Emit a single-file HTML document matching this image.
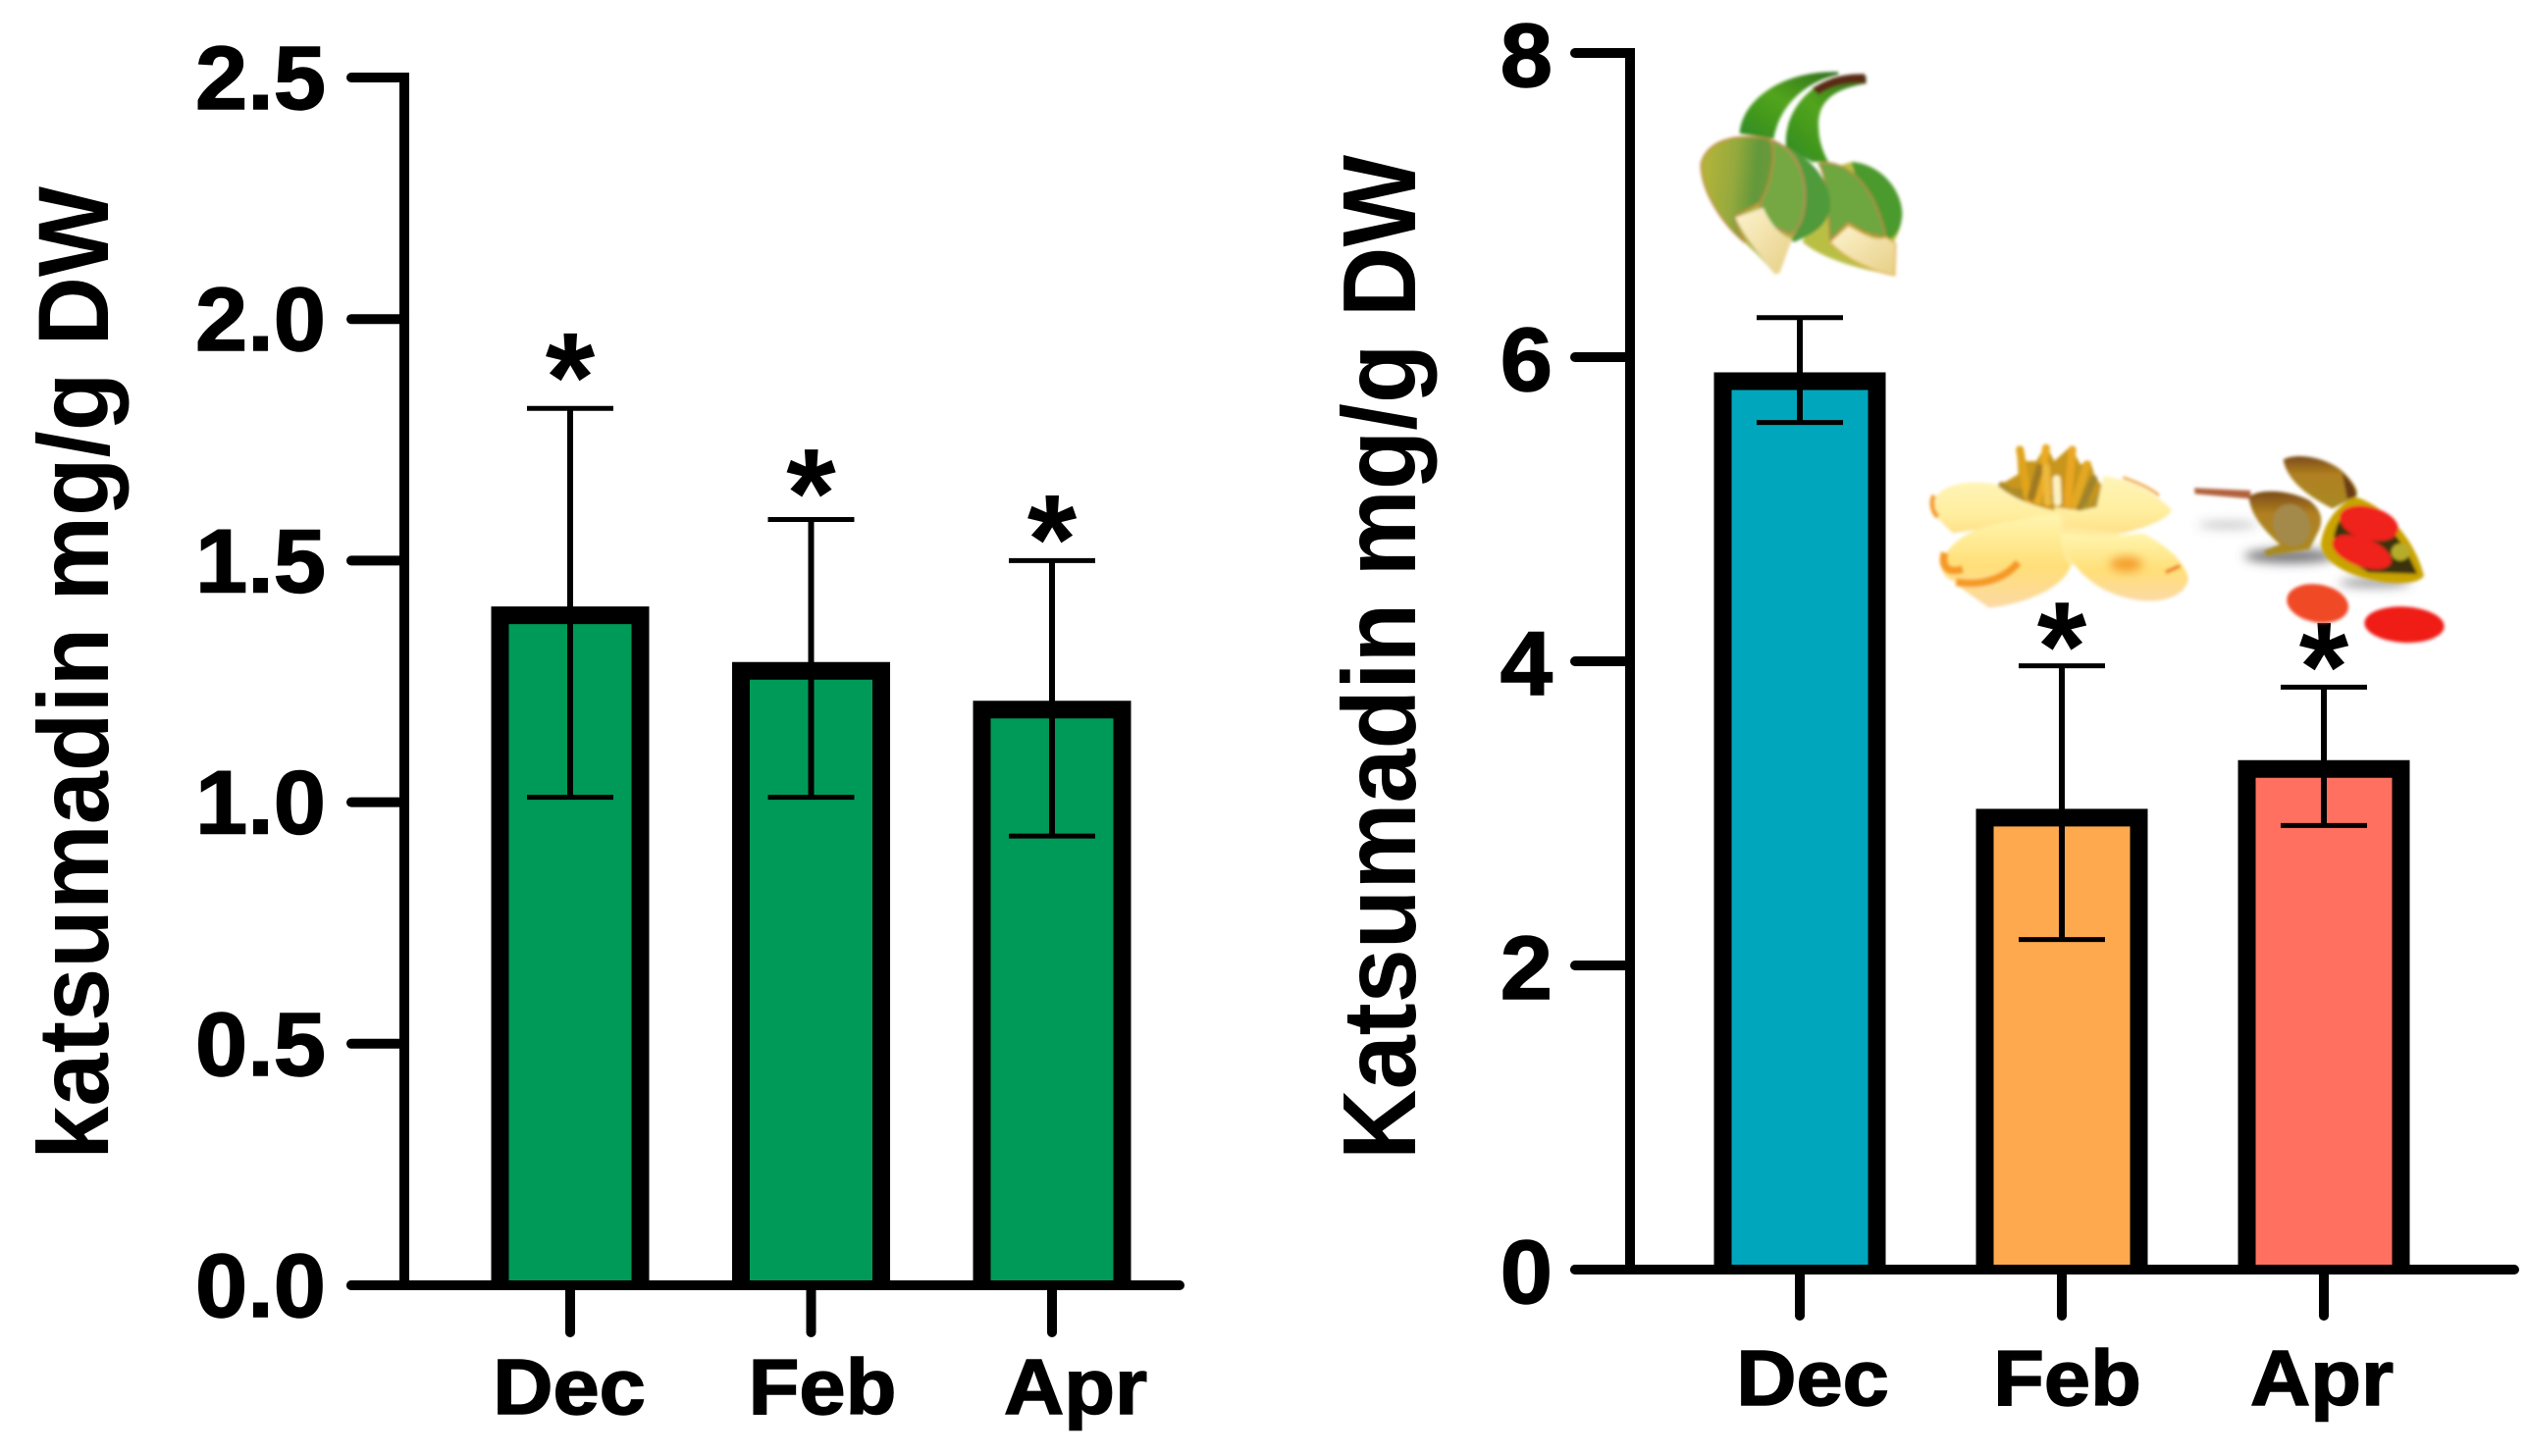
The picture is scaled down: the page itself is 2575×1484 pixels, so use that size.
<!DOCTYPE html>
<html lang="en">
<head>
<meta charset="utf-8">
<title>Katsumadin content charts</title>
<style>
html,body{margin:0;padding:0;background:#fff;}
svg{display:block;}
text{font-family:"Liberation Sans",Arial,sans-serif;font-weight:bold;fill:#000;}
</style>
</head>
<body>
<svg id="figure" xmlns="http://www.w3.org/2000/svg" width="2575" height="1484" viewBox="0 0 2575 1484">
  <defs>
    <filter id="soft" x="-10%" y="-10%" width="120%" height="120%"><feGaussianBlur stdDeviation="5"/></filter>
    <filter id="patch" x="-50%" y="-50%" width="200%" height="200%"><feGaussianBlur stdDeviation="14"/></filter>
    <filter id="softer" x="-30%" y="-60%" width="160%" height="220%"><feGaussianBlur stdDeviation="16"/></filter>
    <linearGradient id="budLeaf" x1="0" y1="0" x2="1" y2="0.15"><stop offset="0" stop-color="#b9b63a"/><stop offset="0.5" stop-color="#95a93c"/><stop offset="0.8" stop-color="#62983a"/><stop offset="1" stop-color="#6a9a3a"/></linearGradient>
    <linearGradient id="budStem" x1="0" y1="1" x2="1" y2="0"><stop offset="0" stop-color="#2f8a22"/><stop offset="0.5" stop-color="#52a41c"/><stop offset="1" stop-color="#2d6f20"/></linearGradient>
    <linearGradient id="budTip" x1="0" y1="0" x2="1" y2="1"><stop offset="0" stop-color="#fdf3cf"/><stop offset="1" stop-color="#e6cf85"/></linearGradient>
    <linearGradient id="petal" x1="0" y1="0" x2="0" y2="1"><stop offset="0" stop-color="#fff4b6"/><stop offset="0.6" stop-color="#ffefa0"/><stop offset="1" stop-color="#ffe08a"/></linearGradient>
    <linearGradient id="petalLow" x1="0" y1="0" x2="0" y2="1"><stop offset="0" stop-color="#fff6b0"/><stop offset="0.55" stop-color="#ffdf78"/><stop offset="1" stop-color="#fcd9a4"/></linearGradient>
    <linearGradient id="podBrown" x1="0" y1="0" x2="0" y2="1"><stop offset="0" stop-color="#7a4a18"/><stop offset="0.35" stop-color="#b08020"/><stop offset="1" stop-color="#a88a20"/></linearGradient>
  </defs>

  <g id="chart-left"></g>
  <g id="chart-right"></g>

  <text transform="translate(110,1182) rotate(-90)" font-size="102" textLength="992" lengthAdjust="spacingAndGlyphs">katsumadin mg/g DW</text>
  <text transform="translate(1442,1182) rotate(-90)" font-size="106" textLength="1024" lengthAdjust="spacingAndGlyphs">Katsumadin mg/g DW</text>

  <g transform="translate(1700,40) scale(0.3333)" filter="url(#soft)">
    <path d="M218,288 C222,200 330,95 520,100 L520,108 C420,130 340,200 322,305 Z" fill="url(#budStem)"/>
    <path d="M360,330 C350,220 440,125 530,115 L605,112 L605,135 C520,150 450,180 460,280 C462,320 480,360 490,375 L440,375 Z" fill="url(#budStem)"/>
    <path d="M440,150 C480,125 520,105 600,106 L605,135 C560,130 500,140 460,170 Z" fill="#5a2a12"/>
    <path d="M410,620 C440,560 470,480 480,400 L560,375 C640,380 710,450 715,530 C715,570 700,600 690,620 L692,722 C620,710 480,680 410,620 Z" fill="#b9bf45"/>
    <path d="M560,375 C640,380 710,450 715,530 C715,570 700,600 680,610 L620,600 Z" fill="#4c9a2e"/>
    <path d="M460,380 C540,365 630,440 665,605 L600,590 L550,560 L495,615 C490,560 490,430 460,380 Z" fill="#6ea63f" stroke="#b58a45" stroke-width="5"/>
    <path d="M495,620 L550,570 C590,590 630,620 665,605 L695,625 L692,722 C620,710 540,670 495,620 Z" fill="url(#budTip)" stroke="#e0a92e" stroke-width="4"/>
    <path d="M330,315 C430,350 500,430 495,520 C480,580 430,600 385,620 L330,600 Z" fill="#4f9a3a"/>
    <path d="M100,380 C120,310 200,285 310,305 C400,330 430,420 415,520 C410,560 390,590 378,610 L340,715 L325,718 C280,660 240,630 235,622 C170,570 100,470 100,380 Z" fill="#b3b23c"/>
    <path d="M320,310 C390,340 430,420 415,520 C410,560 390,590 375,595 L320,575 L280,520 Z" fill="#74a842" stroke="#b58a55" stroke-width="6"/>
    <path d="M100,380 C120,310 200,285 310,305 C335,350 310,450 280,500 L205,540 C205,570 230,610 235,622 C170,570 100,470 100,380 Z" fill="url(#budLeaf)" stroke="#c08a40" stroke-width="5"/>
    <path d="M205,545 L290,515 C310,560 340,600 378,610 L340,715 L325,718 C280,660 230,600 205,545 Z" fill="url(#budTip)"/>
  </g>

  <g transform="translate(1950,420) scale(0.3333)" filter="url(#soft)">
    <path d="M260,225 L320,190 L315,105 L345,150 L375,150 L405,100 L430,150 L480,105 L510,160 L540,150 L555,200 L590,240 L555,285 L620,300 L540,320 L330,285 Z" fill="#c8961e"/>
    <g fill="none" stroke-linecap="round" stroke-width="24">
      <path d="M300,240 L610,300" stroke="#a88a28" stroke-width="18"/>
      <path d="M350,270 L325,115" stroke="#e0a41c"/>
      <path d="M380,270 L405,110" stroke="#eaaa20"/>
      <path d="M360,260 L385,170" stroke="#a07a24"/>
      <path d="M470,280 L485,115" stroke="#eaa620"/>
      <path d="M490,285 L530,160" stroke="#e2a824"/>
      <path d="M510,295 L550,205" stroke="#a0842c"/>
      <path d="M525,300 L585,245" stroke="#b89428"/>
      <path d="M330,270 L270,225" stroke="#b08c28"/>
      <path d="M410,275 L405,170" stroke="#eeb83a"/>
      <path d="M440,275 L437,205" stroke="#fff2c0"/>
    </g>
    <path d="M430,290 L640,320 L620,420 L480,470 L440,430 Z" fill="#ffeb9e"/>
    <path d="M580,195 C650,205 720,230 790,300 C770,330 720,350 640,370 L455,350 L470,310 L560,290 Z" fill="url(#petal)"/>
    <path d="M640,200 C680,215 720,230 750,255" stroke="#f0a030" stroke-width="8" fill="none"/>
    <path d="M450,370 C520,380 620,380 700,370 C780,410 830,460 840,510 C830,570 740,590 660,570 C570,550 500,500 450,400 Z" fill="url(#petalLow)"/>
    <ellipse cx="650" cy="465" rx="50" ry="22" fill="#f59a28" filter="url(#patch)"/>
    <path d="M770,490 L815,470" stroke="#f08020" stroke-width="12"/>
    <path d="M55,285 C70,225 150,205 250,220 C300,260 340,280 445,305 C450,340 380,350 300,345 L120,370 C90,340 60,320 55,285 Z" fill="url(#petal)"/>
    <path d="M62,255 C50,280 60,310 75,320" stroke="#f49a20" stroke-width="14" fill="none"/>
    <path d="M85,470 C95,420 140,370 240,345 C320,330 440,300 450,320 C450,370 440,420 480,470 C460,540 330,590 230,598 C190,570 130,530 120,515 C100,510 85,490 85,470 Z" fill="url(#petalLow)"/>
    <path d="M95,430 C85,470 100,495 150,480 M130,520 C190,530 270,520 320,460" stroke="#f59a20" stroke-width="24" fill="none"/>
  </g>

  <g transform="translate(2220,440) scale(0.3333)">
    <g filter="url(#softer)" fill="#55555a">
      <ellipse cx="150" cy="285" rx="90" ry="10" opacity="0.4"/>
      <ellipse cx="340" cy="380" rx="140" ry="22" opacity="0.8"/>
      <ellipse cx="600" cy="462" rx="110" ry="12" opacity="0.7"/>
    </g>
    <g filter="url(#soft)">
      <path d="M48,172 L220,180 L220,205 L50,190 Z" fill="#b0603a"/>
      <path d="M320,85 C370,60 470,85 510,130 C540,160 555,190 540,200 L470,235 C400,200 330,150 320,85 Z" fill="url(#podBrown)"/>
      <path d="M500,125 C530,150 550,190 540,200 L515,205 C510,180 505,150 500,125 Z" fill="#6a3a18"/>
      <path d="M215,200 C240,175 330,175 400,210 C430,235 445,260 430,300 L400,360 L270,380 L260,365 L310,345 C270,310 220,260 215,200 Z" fill="url(#podBrown)"/>
      <ellipse cx="345" cy="285" rx="55" ry="65" fill="#a38a4c" transform="rotate(-20 345 285)"/>
      <path d="M435,345 C440,280 490,220 540,200 C620,220 720,320 750,440 C740,465 660,470 600,455 C520,440 440,400 435,345 Z" fill="#c9a306"/>
      <path d="M475,320 C485,265 510,240 560,228 C620,245 690,340 730,435 L580,430 C530,400 475,370 475,320 Z" fill="#3a3010"/>
      <ellipse cx="582" cy="280" rx="92" ry="50" fill="#f0201c" transform="rotate(15 582 280)"/>
      <ellipse cx="560" cy="368" rx="95" ry="44" fill="#f0201c" transform="rotate(20 560 368)"/>
      <ellipse cx="678" cy="368" rx="28" ry="26" fill="#b5ac2c"/>
      <ellipse cx="425" cy="525" rx="95" ry="58" fill="#f04a28" transform="rotate(10 425 525)"/>
      <ellipse cx="690" cy="590" rx="122" ry="55" fill="#f01a18" transform="rotate(3 690 590)"/>
    </g>
  </g>

  <script>
    // Left chart data
    const leftCategories = ["Dec", "Feb", "Apr"];
    const leftMeans = [1.405, 1.29, 1.21];
    const leftErrHigh = [1.815, 1.585, 1.50];
    const leftErrLow = [1.01, 1.01, 0.93];
    const leftStars = [1, 1, 1];
    const leftTicks = [0, 0.5, 1, 1.5, 2, 2.5];
    const leftTickLabels = ["0.0", "0.5", "1.0", "1.5", "2.0", "2.5"];
    const leftColors = ["#009a58", "#009a58", "#009a58"];

    // Right chart data
    const rightCategories = ["Dec", "Feb", "Apr"];
    const rightMeans = [5.90, 3.03, 3.35];
    const rightErrHigh = [6.26, 3.97, 3.83];
    const rightErrLow = [5.57, 2.17, 2.92];
    const rightStars = [0, 1, 1];
    const rightTicks = [0, 2, 4, 6, 8];
    const rightTickLabels = ["0", "2", "4", "6", "8"];
    const rightColors = ["#00a6bc", "#ffa94f", "#ff7061"];

    const NS = "http://www.w3.org/2000/svg";

    function mark(parent, tag, name, attrs, content) {
      const el = document.createElementNS(NS, tag);
      
      
      for (const k in attrs) el.setAttribute(k, attrs[k]);
      if (content !== undefined) el.textContent = content;
      parent.appendChild(el);
      return el;
    }

    function drawChart(p, d) {
      const g = document.getElementById(p.id);
      const y = v => p.y0 - (v - d.ticks[0]) / (d.ticks[d.ticks.length - 1] - d.ticks[0]) * (p.y0 - p.yTop);
      const x = i => p.x0 + i * p.step;
      const lx = i => p.labelX0 + i * p.labelStep;
      const lineAttrs = (a, b, c, e, w) => ({x1: a, y1: b, x2: c, y2: e, stroke: "#000", "stroke-width": w});

      d.means.forEach((v, i) => {
        const top = y(v) + p.border / 2;
        const left = x(i) - p.barW / 2 + p.border / 2;
        const right = x(i) + p.barW / 2 - p.border / 2;
        mark(g, "path", "bar-" + d.categories[i].toLowerCase(), {
          d: "M" + left + "," + p.y0 + " V" + top + " H" + right + " V" + p.y0,
          fill: d.colors[i], stroke: "#000", "stroke-width": p.border
        });
      });

      d.means.forEach((v, i) => {
        const c = x(i);
        const name = d.categories[i].toLowerCase();
        mark(g, "line", "error-bar-" + name, lineAttrs(c, y(d.errHigh[i]), c, y(d.errLow[i]), 6));
        mark(g, "line", "error-cap-high-" + name, lineAttrs(c - p.cap, y(d.errHigh[i]), c + p.cap, y(d.errHigh[i]), 5));
        mark(g, "line", "error-cap-low-" + name, lineAttrs(c - p.cap, y(d.errLow[i]), c + p.cap, y(d.errLow[i]), 5));
        if (d.stars[i]) {
          mark(g, "text", "significance-star-" + name, {
            x: c, y: y(d.errHigh[i]) + p.starDy[i], "text-anchor": "middle", "font-size": 130
          }, "*");
        }
      });

      mark(g, "line", "y-axis-line", lineAttrs(p.axisX, p.yTop - 5, p.axisX, p.y0 + 5, 10));
      mark(g, "line", "x-axis-line", Object.assign(lineAttrs(p.tickStart, p.y0, p.xEnd, p.y0, 10), {"stroke-linecap": "round"}));

      d.ticks.forEach((t, i) => {
        mark(g, "line", "y-tick-" + d.tickLabels[i], Object.assign(lineAttrs(p.tickStart, y(t), p.axisX, y(t), 10), {"stroke-linecap": "round"}));
        mark(g, "text", "y-tick-label-" + d.tickLabels[i], {
          transform: "translate(" + p.tickLabelX + "," + (y(t) + p.tickDy) + ") scale(1.04,1)",
          "text-anchor": "end", "font-size": 92, stroke: "#000", "stroke-width": 1.5
        }, d.tickLabels[i]);
      });

      d.categories.forEach((cat, i) => {
        mark(g, "line", "x-tick-" + cat.toLowerCase(), Object.assign(lineAttrs(x(i), p.y0, x(i), p.tickBottom, 10), {"stroke-linecap": "round"}));
        mark(g, "text", "x-label-" + cat.toLowerCase(), {
          transform: "translate(" + lx(i) + "," + p.labelY + ") scale(1.06,1)",
          "text-anchor": "middle", "font-size": 80, stroke: "#000", "stroke-width": 1.5
        }, cat);
      });
    }

    drawChart(
      {id: "chart-left", y0: 1310, yTop: 79, axisX: 412, tickStart: 358, xEnd: 1202, tickBottom: 1358,
       x0: 581, step: 245.5, barW: 161, border: 18, cap: 44, starDy: [13, 18, 23], tickLabelX: 332, tickDy: 32,
       labelX0: 580, labelStep: 258, labelY: 1441},
      {categories: leftCategories, means: leftMeans, errHigh: leftErrHigh, errLow: leftErrLow,
       stars: leftStars, ticks: leftTicks, tickLabels: leftTickLabels, colors: leftColors}
    );
    drawChart(
      {id: "chart-right", y0: 1294, yTop: 54, axisX: 1661, tickStart: 1605, xEnd: 2562, tickBottom: 1341,
       x0: 1834, step: 267, barW: 175, border: 18, cap: 44, starDy: [0, 25, 24], tickLabelX: 1582, tickDy: 34,
       labelX0: 1847, labelStep: 259.5, labelY: 1432},
      {categories: rightCategories, means: rightMeans, errHigh: rightErrHigh, errLow: rightErrLow,
       stars: rightStars, ticks: rightTicks, tickLabels: rightTickLabels, colors: rightColors}
    );
  </script>
</svg>
</body>
</html>
